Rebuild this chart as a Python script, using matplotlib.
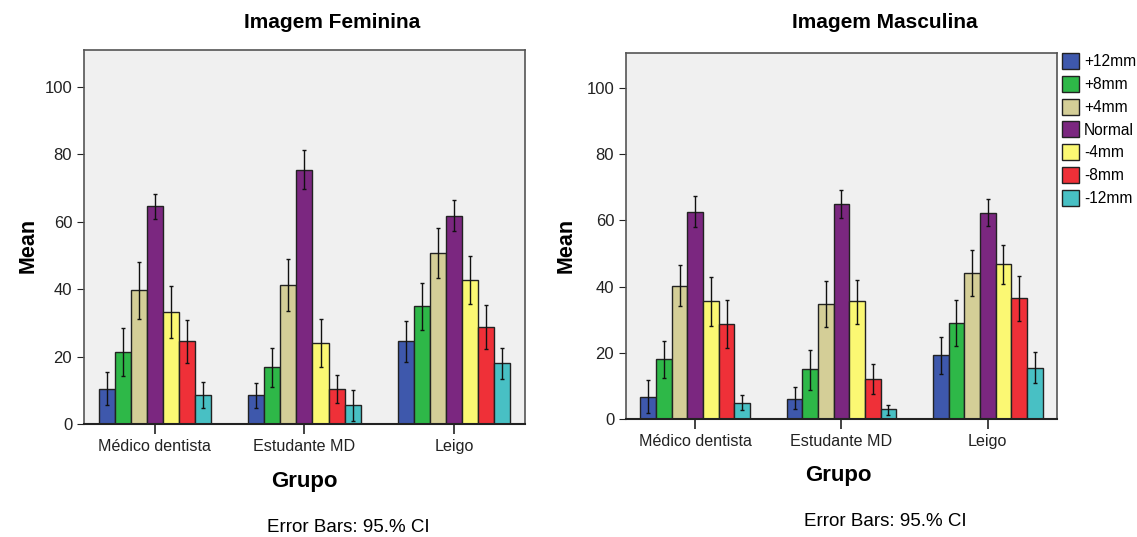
import numpy as np
import matplotlib
matplotlib.use('Agg')
import matplotlib.pyplot as plt

plt.rcParams['font.family'] = ['Liberation Sans', 'DejaVu Sans']

# data
grupos = ['Médico dentista', 'Estudante MD', 'Leigo']
niveis = ['+12mm', '+8mm', '+4mm', 'Normal', '-4mm', '-8mm', '-12mm']
cores = ['#3E58AC', '#2EB848', '#D4CE97', '#7B2780', '#FBF873', '#EF3038', '#48C0C4']

# Imagem Feminina: mean, lower CI, upper CI (rows = niveis, cols = grupos)
fem_mean = [[10.5, 8.5, 24.5], [21.3, 16.8, 34.9], [39.8, 41.4, 50.8], [64.7, 75.4, 61.8],
            [33.2, 24.1, 42.6], [24.6, 10.3, 28.9], [8.5, 5.6, 18.2]]
fem_low = [[5.6, 4.9, 18.4], [14.2, 10.9, 28.0], [31.3, 33.6, 43.4], [60.9, 69.7, 57.3],
           [25.4, 16.8, 35.5], [18.2, 6.1, 22.2], [4.7, 1.0, 13.4]]
fem_high = [[15.4, 12.2, 30.5], [28.4, 22.7, 41.9], [48.0, 49.1, 58.1], [68.4, 81.2, 66.4],
            [40.9, 31.3, 49.8], [31.0, 14.4, 35.4], [12.4, 10.2, 22.6]]

# Imagem Masculina
mas_mean = [[6.8, 6.2, 19.3], [18.1, 15.0, 29.1], [40.2, 34.7, 44.1], [62.6, 64.9, 62.3],
            [35.6, 35.6, 46.7], [28.8, 12.0, 36.6], [4.8, 2.9, 15.4]]
mas_low = [[1.9, 2.9, 13.7], [12.4, 8.9, 22.2], [34.2, 27.8, 37.3], [58.0, 60.6, 58.2],
           [28.1, 28.8, 40.7], [21.6, 7.5, 29.7], [2.6, 1.1, 10.8]]
mas_high = [[11.7, 9.6, 24.8], [23.6, 21.0, 36.1], [46.4, 41.7, 51.0], [67.4, 69.1, 66.4],
            [43.0, 42.1, 52.6], [36.0, 16.6, 43.2], [7.2, 4.2, 20.2]]

fig = plt.figure(figsize=(11.37, 5.37), dpi=100)
ax1 = fig.add_axes([0.0739, 0.2104, 0.3878, 0.6965])
ax2 = fig.add_axes([0.5506, 0.2197, 0.3790, 0.6816])

def draw(ax, mean, low, high, ymax):
    x = np.arange(len(grupos))
    w = 0.107
    handles = []
    for i, nome in enumerate(niveis):
        pos = x + (i - 3) * w
        m = np.array(mean[i])
        err = [m - np.array(low[i]), np.array(high[i]) - m]
        b = ax.bar(pos, m, w, color=cores[i], edgecolor='#222222', linewidth=1.0,
                   label=nome, zorder=2)
        ax.errorbar(pos, m, yerr=err, fmt='none', ecolor='#111111', elinewidth=1,
                    capsize=1.5, capthick=1, zorder=3)
        handles.append(b)
    ax.set_facecolor('#F0F0F0')
    ax.set_xlim(-0.473, 2.473)
    ax.set_ylim(0, ymax)
    ax.set_yticks([0, 20, 40, 60, 80, 100])
    ax.set_xticks(x)
    ax.set_xticklabels(grupos, fontsize=11.6)
    ax.tick_params(axis='y', labelsize=12, length=5, direction='out', colors='#222222')
    ax.tick_params(axis='x', length=7, width=1.2, direction='out', colors='#222222')
    for s in ax.spines.values():
        s.set_color('#555555')
        s.set_linewidth(1.2)
    ax.spines['bottom'].set_color('#222222')
    ax.spines['bottom'].set_linewidth(1.5)
    return handles

draw(ax1, fem_mean, fem_low, fem_high, 111)
hs = draw(ax2, mas_mean, mas_low, mas_high, 110.6)

fig.text(332 / 1137, 1 - 22 / 537, 'Imagem Feminina', ha='center', va='center',
         fontsize=15, fontweight='bold')
fig.text(885 / 1137, 1 - 22 / 537, 'Imagem Masculina', ha='center', va='center',
         fontsize=15, fontweight='bold')
fig.text(28 / 1137, 1 - 245 / 537, 'Mean', rotation=90, ha='center', va='center',
         fontsize=15.5, fontweight='bold')
fig.text(566 / 1137, 1 - 245 / 537, 'Mean', rotation=90, ha='center', va='center',
         fontsize=15.5, fontweight='bold')
fig.text(304 / 1137, 1 - 481 / 537, 'Grupo', ha='center', va='center',
         fontsize=16, fontweight='bold')
fig.text(838 / 1137, 1 - 475 / 537, 'Grupo', ha='center', va='center',
         fontsize=16, fontweight='bold')
fig.text(348 / 1137, 1 - 527 / 537, 'Error Bars: 95.% CI', ha='center', va='center',
         fontsize=13.5)
fig.text(885 / 1137, 1 - 522 / 537, 'Error Bars: 95.% CI', ha='center', va='center',
         fontsize=13.5)

leg = fig.legend(hs, niveis, loc='upper left', bbox_to_anchor=(1059 / 1137, 1 - 50 / 537),
                 frameon=False, fontsize=11.2, handlelength=1.1, handleheight=1.2,
                 handletextpad=0.3, labelspacing=0.42, borderaxespad=0, borderpad=0.2)

fig.savefig('out.png', dpi=100, facecolor='white')
